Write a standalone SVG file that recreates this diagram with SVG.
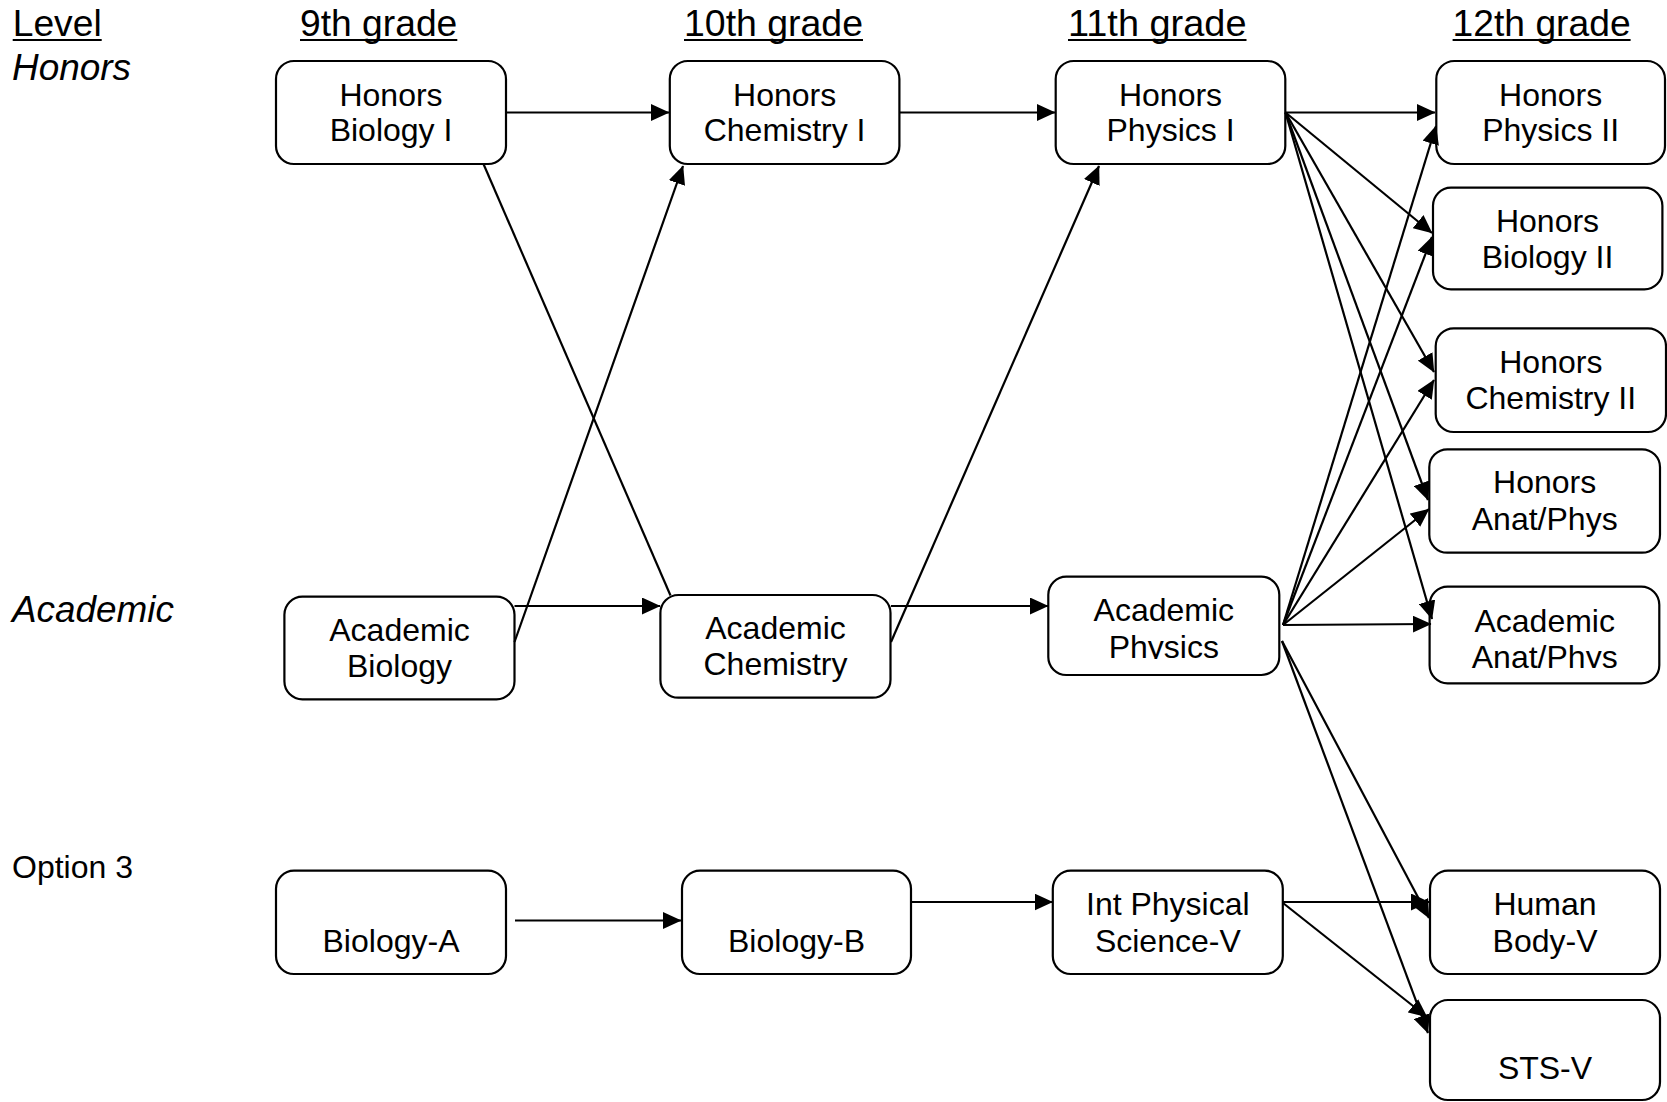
<svg xmlns="http://www.w3.org/2000/svg" width="1667" height="1102" viewBox="0 0 1667 1102">
<style>
.box{fill:#fff;stroke:#000;stroke-width:2.2}
.t{font-family:"Liberation Sans",Arial,sans-serif;font-size:32px;fill:#000;text-anchor:middle}
.h{font-family:"Liberation Sans",Arial,sans-serif;font-size:37px;fill:#000}
.o{font-family:"Liberation Sans",Arial,sans-serif;font-size:32px;fill:#000}
.i{font-style:italic}
.ul{stroke:#000;stroke-width:2.2}
.c{stroke:#000;stroke-width:2.2;fill:none}
.ca{stroke:#000;stroke-width:2.2;fill:none;marker-end:url(#arr)}
</style>
<defs>
<marker id="arr" markerUnits="userSpaceOnUse" markerWidth="19" markerHeight="17" viewBox="0 0 19 17" refX="18" refY="8.5" orient="auto"><path d="M0,0 L18.5,8.5 L0,17 Z" fill="#000"/></marker>
<clipPath id="clipAP"><rect x="1040" y="570" width="250" height="89"/></clipPath>
<clipPath id="clipAAP"><rect x="1420" y="580" width="250" height="88"/></clipPath>
</defs>
<rect x="0" y="0" width="1667" height="1102" fill="#fff"/>
<g id="headers">
<text class="h" x="12.7" y="35.5" textLength="89" lengthAdjust="spacingAndGlyphs">Level</text>
<line class="ul" x1="12.7" y1="40" x2="101.7" y2="40"/>
<text class="h" x="300" y="35.5" textLength="157.3" lengthAdjust="spacingAndGlyphs">9th grade</text>
<line class="ul" x1="300" y1="40" x2="457.3" y2="40"/>
<text class="h" x="684" y="35.5" textLength="179" lengthAdjust="spacingAndGlyphs">10th grade</text>
<line class="ul" x1="684" y1="40" x2="863" y2="40"/>
<text class="h" x="1068" y="35.5" textLength="178.5" lengthAdjust="spacingAndGlyphs">11th grade</text>
<line class="ul" x1="1068" y1="40" x2="1246.5" y2="40"/>
<text class="h" x="1452.6" y="35.5" textLength="178" lengthAdjust="spacingAndGlyphs">12th grade</text>
<line class="ul" x1="1452.6" y1="40" x2="1630.6" y2="40"/>
<text class="h i" x="12" y="80" textLength="119" lengthAdjust="spacingAndGlyphs">Honors</text>
<text class="h i" x="12" y="622" textLength="162" lengthAdjust="spacingAndGlyphs">Academic</text>
<text class="o" x="12" y="878">Option 3</text>
</g>
<g id="node-hb1"><rect class="box" x="276" y="61" width="230" height="103" rx="18"/><text class="t" x="391" y="105.5">Honors</text><text class="t" x="391" y="140.5">Biology I</text></g>
<g id="node-hc1"><rect class="box" x="669.8" y="61" width="229.6" height="103" rx="18"/><text class="t" x="784.6" y="105.5">Honors</text><text class="t" x="784.6" y="140.5">Chemistry I</text></g>
<g id="node-hp1"><rect class="box" x="1055.7" y="61" width="229.6" height="103" rx="18"/><text class="t" x="1170.5" y="105.5">Honors</text><text class="t" x="1170.5" y="140.5">Physics I</text></g>
<g id="node-hp2"><rect class="box" x="1436.3" y="61" width="228.7" height="103" rx="18"/><text class="t" x="1550.6" y="105.5">Honors</text><text class="t" x="1550.6" y="140.5">Physics II</text></g>
<g id="node-hb2"><rect class="box" x="1433" y="187.7" width="229.4" height="101.6" rx="18"/><text class="t" x="1547.5" y="231.7">Honors</text><text class="t" x="1547.5" y="268.3">Biology II</text></g>
<g id="node-hc2"><rect class="box" x="1435.7" y="328.3" width="230.3" height="103.7" rx="18"/><text class="t" x="1550.8" y="372.7">Honors</text><text class="t" x="1550.8" y="409.3">Chemistry II</text></g>
<g id="node-hap"><rect class="box" x="1429.3" y="449.3" width="230.7" height="103.4" rx="18"/><text class="t" x="1544.7" y="492.7">Honors</text><text class="t" x="1544.7" y="530">Anat/Phys</text></g>
<g id="node-aap"><rect class="box" x="1429.6" y="586.7" width="229.7" height="96.6" rx="18"/><g clip-path="url(#clipAAP)"><text class="t" x="1544.7" y="631.7">Academic</text><text class="t" x="1544.7" y="667.5">Anat/Phys</text></g></g>
<g id="node-ab"><rect class="box" x="284.4" y="596.7" width="230.1" height="102.6" rx="18"/><text class="t" x="399.5" y="641">Academic</text><text class="t" x="399.5" y="676.7">Biology</text></g>
<g id="node-ac"><rect class="box" x="660.4" y="595" width="230.1" height="102.7" rx="18"/><text class="t" x="775.5" y="639">Academic</text><text class="t" x="775.5" y="675">Chemistry</text></g>
<g id="node-ap"><rect class="box" x="1048.3" y="576.7" width="231" height="98.3" rx="18"/><g clip-path="url(#clipAP)"><text class="t" x="1163.8" y="621">Academic</text><text class="t" x="1163.8" y="657.7">Physics</text></g></g>
<g id="node-ba"><rect class="box" x="276" y="870.7" width="230" height="103.3" rx="18"/><text class="t" x="391" y="951.7">Biology-A</text></g>
<g id="node-bb"><rect class="box" x="682" y="870.7" width="229" height="103.3" rx="18"/><text class="t" x="796.5" y="951.7">Biology-B</text></g>
<g id="node-ips"><rect class="box" x="1052.8" y="870.7" width="230" height="103.3" rx="18"/><text class="t" x="1167.8" y="915">Int Physical</text><text class="t" x="1167.8" y="951.7">Science-V</text></g>
<g id="node-hbv"><rect class="box" x="1430" y="870.7" width="230" height="103.3" rx="18"/><text class="t" x="1545" y="915">Human</text><text class="t" x="1545" y="951.7">Body-V</text></g>
<g id="node-sts"><rect class="box" x="1430" y="1000" width="230" height="100" rx="18"/><text class="t" x="1545" y="1079.3">STS-V</text></g>
<g id="connectors">
<path class="ca" d="M506,112.5 L669,112.5"/>
<path class="ca" d="M899.5,112.5 L1055,112.5"/>
<path class="c" d="M483.5,164 L670.5,595.5"/>
<path class="ca" d="M514.5,642 L683,166"/>
<path class="ca" d="M514.5,606 L660,606"/>
<path class="ca" d="M891,606 L1048,606"/>
<path class="ca" d="M891,642 L1099,166"/>
<path class="ca" d="M515,920.5 L681,920.5"/>
<path class="ca" d="M911,902 L1052.5,902"/>
<path class="ca" d="M1283,902 L1429,902"/>
<path class="ca" d="M1283,903 L1427,1017"/>
<path class="ca" d="M1285.5,112.5 L1435,112.5"/>
<path class="ca" d="M1285.5,112.5 L1432,233"/>
<path class="ca" d="M1285.5,112.5 L1434,372"/>
<path class="ca" d="M1285.5,112.5 L1428,500"/>
<path class="ca" d="M1285.5,112.5 L1432,619"/>
<path class="ca" d="M1283,625 L1436,126"/>
<path class="ca" d="M1283,625 L1432,237"/>
<path class="ca" d="M1283,625 L1434,380"/>
<path class="ca" d="M1283,625 L1429,509"/>
<path class="ca" d="M1283,625 L1431,624"/>
<path class="ca" d="M1282,641 L1429,918"/>
<path class="ca" d="M1282,641 L1428,1033"/>
</g>
</svg>
